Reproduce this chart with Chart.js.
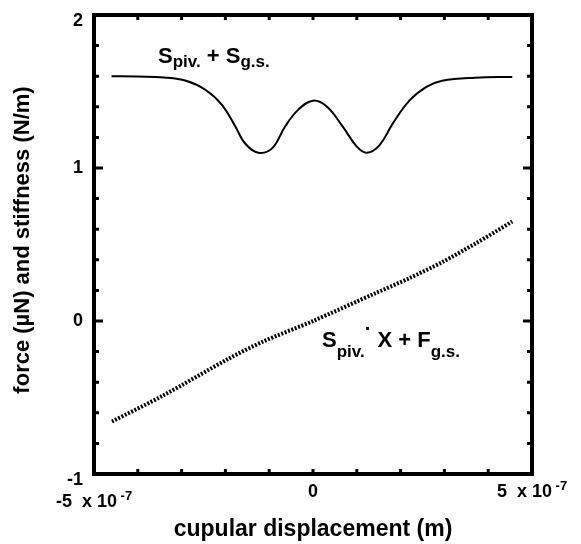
<!DOCTYPE html>
<html>
<head>
<meta charset="utf-8">
<script src="https://cdn.jsdelivr.net/npm/chart.js@4.4.0/dist/chart.umd.min.js"></script>
<style>html,body{margin:0;padding:0;background:#fff;}</style>
</head>
<body>
<canvas id="myChart" width="581" height="544"></canvas>
<script>
// cupular displacement in units of 1e-7 m
let stiffX = [-4.6, -4.0, -3.4, -2.9, -2.45, -2.07, -1.77, -1.55, -1.25, -0.93, -0.64, -0.34, 0, 0.32, 0.68, 1.0, 1.23, 1.52, 1.82, 2.2, 2.59, 2.95, 3.7, 4.55];
let stiffY = [1.60, 1.598, 1.592, 1.57, 1.51, 1.41, 1.27, 1.16, 1.10, 1.13, 1.27, 1.38, 1.44, 1.40, 1.27, 1.14, 1.10, 1.15, 1.29, 1.44, 1.53, 1.57, 1.59, 1.595];
let forceX = [-4.59, -3.43, -1.93, -1.16, 0, 1.45, 2.2, 2.95, 3.73, 4.55];
let forceY = [-0.657, -0.488, -0.247, -0.137, 0, 0.185, 0.28, 0.385, 0.51, 0.65];
let xLabelValues = [-5, 0, 5];
let yLabelValues = [-1, 0, 1, 2];

const FONT = '"Liberation Sans", Arial, Helvetica, sans-serif';

// draws a row of text pieces [text, size, dy] one after the other
function drawRuns(ctx, parts, x, y, align) {
    let total = 0;
    let widths = [];
    for (let i = 0; i < parts.length; i++) {
        ctx.font = 'bold ' + parts[i][1] + 'px ' + FONT;
        widths.push(ctx.measureText(parts[i][0]).width);
        total += widths[i];
    }
    let cx = align === 'center' ? x - total / 2 : x;
    ctx.textAlign = 'left';
    ctx.textBaseline = 'alphabetic';
    for (let i = 0; i < parts.length; i++) {
        ctx.font = 'bold ' + parts[i][1] + 'px ' + FONT;
        ctx.fillText(parts[i][0], cx, y + parts[i][2]);
        cx += widths[i];
    }
}

const frame = {
    id: 'frame',
    afterDatasetsDraw(chart) {
        let ctx = chart.ctx;
        let ca = chart.chartArea;
        let xs = chart.scales.x;
        let ys = chart.scales.y;
        ctx.save();
        ctx.strokeStyle = '#000';
        ctx.fillStyle = '#000';

        // inward ticks
        ctx.lineWidth = 3;
        ys.ticks.forEach(function (t) {
            if (t.value <= ys.min + 1e-6 || t.value >= ys.max - 1e-6) return;
            let p = ys.getPixelForValue(t.value);
            let len = Math.abs(t.value - Math.round(t.value)) < 1e-6 ? 9 : 5;
            ctx.beginPath();
            ctx.moveTo(ca.left, p); ctx.lineTo(ca.left + len, p);
            ctx.moveTo(ca.right, p); ctx.lineTo(ca.right - len, p);
            ctx.stroke();
        });
        xs.ticks.forEach(function (t) {
            if (t.value <= xs.min + 1e-6 || t.value >= xs.max - 1e-6) return;
            let p = xs.getPixelForValue(t.value);
            ctx.beginPath();
            ctx.moveTo(p, ca.bottom); ctx.lineTo(p, ca.bottom - 5);
            ctx.moveTo(p, ca.top); ctx.lineTo(p, ca.top + 5);
            ctx.stroke();
        });
        ctx.lineWidth = 4;
        ctx.strokeRect(ca.left, ca.top, ca.right - ca.left, ca.bottom - ca.top);

        // y tick labels
        ctx.font = 'bold 18px ' + FONT;
        ctx.textAlign = 'right';
        ctx.textBaseline = 'middle';
        yLabelValues.forEach(function (v) {
            let dy = (v === ys.max || v === ys.min) ? 6 : 0;
            ctx.fillText(String(v), ca.left - 11, ys.getPixelForValue(v) + dy);
        });

        // x tick labels
        xLabelValues.forEach(function (v) {
            let p = xs.getPixelForValue(v);
            if (v === 0) {
                drawRuns(ctx, [['0', 18, 0]], p, 497, 'center');
            } else {
                let base = v < 0 ? 507 : 497;
                drawRuns(ctx, [[String(v), 18, 0], ['  x 10', 18, 0], [' -7', 13, -7]], p, base, 'center');
            }
        });

        // axis titles
        ctx.font = 'bold 23px ' + FONT;
        ctx.textAlign = 'center';
        ctx.textBaseline = 'alphabetic';
        ctx.fillText('cupular displacement (m)', 313, 536);
        ctx.save();
        ctx.translate(23, 240);
        ctx.rotate(-Math.PI / 2);
        ctx.font = 'bold 22px ' + FONT;
        ctx.textBaseline = 'middle';
        ctx.fillText('force (\u00b5N) and stiffness (N/m)', 0, 0);
        ctx.restore();

        // curve labels
        drawRuns(ctx, [['S', 22, 0], ['piv.', 17, 4], [' + ', 22, 0], ['S', 22, 0], ['g.s.', 17, 4]], 158, 63, 'left');
        drawRuns(ctx, [['S', 22, 0], ['piv.', 17, 10], ['\u00b7', 20, -12], [' X + F', 22, 0], ['g.s.', 17, 10]], 322, 347, 'left');
        ctx.restore();
    }
};

let ctx = document.getElementById('myChart');
let myChart = new Chart(ctx, {
    type: 'line',
    data: {
        datasets: [{
            data: stiffX.map(function (x, i) { return {x: x, y: stiffY[i]}; }),
            borderColor: '#000',
            borderWidth: 2,
            pointRadius: 0,
            tension: 0.4,
            fill: false
        }, {
            data: forceX.map(function (x, i) { return {x: x, y: forceY[i]}; }),
            borderColor: '#000',
            borderWidth: 4,
            borderDash: [2, 1.6],
            pointRadius: 0,
            tension: 0.3,
            fill: false
        }]
    },
    options: {
        responsive: false,
        animation: false,
        layout: {padding: {left: 94, top: 15, right: 49, bottom: 70}},
        plugins: {legend: {display: false}, tooltip: {enabled: false}},
        scales: {
            x: {type: 'linear', min: -5, max: 5, display: false, ticks: {stepSize: 1}},
            y: {type: 'linear', min: -1, max: 2, display: false, ticks: {stepSize: 0.1}}
        }
    },
    plugins: [frame]
});
</script>
</body>
</html>
